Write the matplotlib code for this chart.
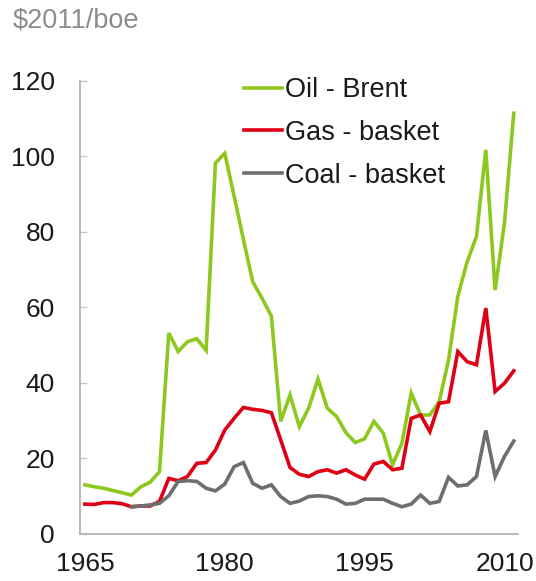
import numpy as np
import matplotlib
matplotlib.use("Agg")
import matplotlib.pyplot as plt

years = list(range(1965, 2012))

oil = [13.0, 12.5, 12.1, 11.5, 10.9, 10.3, 12.5, 13.7, 16.5, 53.2,
       48.3, 50.9, 51.7, 48.6, 98.2, 100.8, 89.5, 78.0, 66.8, 62.4,
       57.7, 29.8, 36.8, 28.4, 33.3, 41.0, 33.3, 31.1, 26.8, 24.2,
       25.2, 29.8, 26.7, 18.3, 24.0, 37.3, 31.5, 31.5, 35.0, 46.0,
       62.9, 72.1, 78.8, 101.7, 64.6, 82.3, 111.4]

gas = [7.9, 7.8, 8.3, 8.3, 8.0, 7.2, 7.4, 7.4, 8.6, 14.7,
       14.1, 15.2, 18.7, 18.9, 22.2, 27.5, 30.6, 33.5, 33.0, 32.7,
       32.1, 24.9, 17.6, 15.8, 15.2, 16.5, 17.0, 16.1, 17.0, 15.6,
       14.5, 18.5, 19.2, 17.0, 17.4, 30.6, 31.5, 27.1, 34.6, 35.0,
       48.3, 45.6, 44.8, 59.8, 37.7, 39.9, 43.2]

coal = [np.nan, np.nan, np.nan, np.nan, np.nan, 7.2, 7.4, 7.7, 8.1, 10.1,
        13.9, 14.1, 13.9, 12.1, 11.4, 13.2, 17.8, 18.9, 13.4, 12.1,
        13.0, 9.9, 8.1, 8.7, 9.9, 10.1, 9.9, 9.2, 7.9, 8.1,
        9.2, 9.2, 9.2, 8.1, 7.2, 7.9, 10.3, 8.1, 8.6, 15.0,
        12.7, 13.0, 15.2, 27.4, 15.2, 20.5, 24.6]

series_labels = ["Oil - Brent", "Gas - basket", "Coal - basket"]
series_colors = ["#8cc81e", "#e00016", "#6e6e6e"]
x_ticks = [1965, 1980, 1995, 2010]
y_ticks = [0, 20, 40, 60, 80, 100, 120]
unit_label = "$2011/boe"

plt.rcParams['font.family'] = ['Liberation Sans', 'DejaVu Sans']

fig = plt.figure(figsize=(5.36, 5.81), dpi=100)
ax = fig.add_axes([0.149, 0.081, 0.817, 0.780])

for vals, lab, col in zip([oil, gas, coal], series_labels, series_colors):
    ax.plot(years, vals, color=col, lw=2.6, label=lab, solid_joinstyle='miter')

ax.set_xlim(1964.46, 2011.43)
ax.set_ylim(0, 120)
ax.set_xticks(x_ticks)
ax.set_xticklabels([str(t) for t in x_ticks])
ax.set_yticks(y_ticks)

for s in ['top', 'right']:
    ax.spines[s].set_visible(False)
for s in ['left', 'bottom']:
    ax.spines[s].set_color('#b4b4b4')
    ax.spines[s].set_linewidth(1.3)

ax.tick_params(axis='y', direction='in', length=5, width=1.0, color='#c8c8c8',
               labelsize=19, labelcolor='#1a1a1a', pad=18)
ax.tick_params(axis='x', length=0, labelsize=19, labelcolor='#1a1a1a', pad=13)

leg = ax.legend(loc='upper left', bbox_to_anchor=(0.375, 1.008), frameon=False,
                fontsize=19.5, handlelength=1.4, handletextpad=0.12,
                labelspacing=0.62, borderpad=0, borderaxespad=0)
for t in leg.get_texts():
    t.set_color('#1a1a1a')

fig.text(0.024, 0.952, unit_label, fontsize=19.5, color='#8c8c8c',
         ha='left', va='baseline')

fig.savefig("out.png", dpi=100)
